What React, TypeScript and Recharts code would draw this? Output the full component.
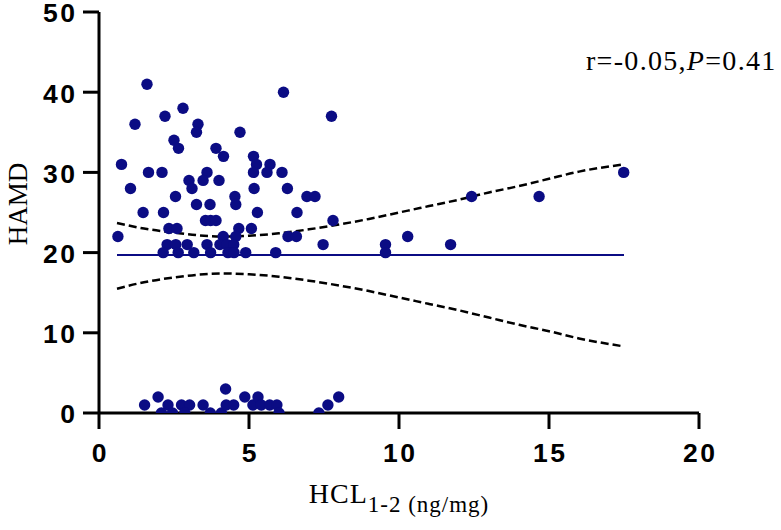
import React from 'react';
import { ComposedChart, Scatter, Line, XAxis, YAxis } from 'recharts';

// HCL (ng/mg) vs HAMD score
const hclValues = [
  1.6, 1.2, 2.2, 2.8, 3.3, 3.25, 2.5, 2.65, 0.75, 1.65, 2.1, 1.05, 3.0, 3.1, 2.55, 3.25, 1.47, 2.15,
  0.63, 2.33, 2.6, 2.27, 2.56, 2.94, 2.14, 2.64, 3.16,
  6.15, 7.75, 4.7, 3.9, 4.15, 5.15, 5.25, 5.15, 5.7, 5.6, 6.1, 3.6, 3.47, 4.0, 5.17, 6.28, 6.93, 7.2,
  4.53, 4.56, 3.7, 5.28, 6.6, 3.55, 3.72, 3.9, 4.66, 5.08, 7.8, 4.14, 4.56, 6.3, 6.58, 3.6, 4.03,
  4.27, 4.49, 7.47, 3.72, 4.3, 4.5, 4.89, 5.89,
  9.55, 9.55, 10.29, 11.72, 12.42, 14.67, 17.49,
  1.52, 1.97, 2.3, 2.08, 2.45, 2.75, 3.02, 2.86, 3.47, 3.71, 4.08, 4.22, 4.24, 4.49, 4.86, 5.13,
  5.3, 5.41, 5.69, 5.93, 6.0, 7.33, 7.63, 7.99,
];
const hamdValues = [
  41, 36, 37, 38, 36, 35, 34, 33, 31, 30, 30, 28, 29, 28, 27, 26, 25, 25,
  22, 23, 23, 21, 21, 21, 20, 20, 20,
  40, 37, 35, 33, 32, 32, 31, 30, 31, 30, 30, 30, 29, 29, 28, 28, 27, 27,
  27, 26, 26, 25, 25, 24, 24, 24, 23, 23, 24, 22, 22, 22, 22, 21, 21,
  21, 21, 21, 20, 20, 20, 20, 20,
  21, 20, 22, 21, 27, 27, 30,
  1, 2, 1, 0, 0, 1, 1, 0, 1, 0, 0, 3, 1, 1, 2, 1,
  2, 1, 1, 1, 0, 0, 1, 2,
];

// fitted line and 95% confidence band
const fitX = [0.6, 17.5];
const fitY = [19.7, 19.7];
const bandX = [0.6, 1.5, 2.5, 3.5, 4.2, 5, 6, 7, 8, 9, 10, 11, 12, 13, 14, 15, 16, 17.5];
const bandUpper = [23.7, 23.0, 22.5, 22.1, 22.0, 22.1, 22.4, 22.9, 23.5, 24.2, 25.0, 25.8, 26.6, 27.5, 28.3, 29.2, 30.1, 31.0];
const bandLower = [15.5, 16.3, 16.9, 17.3, 17.4, 17.3, 17.0, 16.5, 15.9, 15.2, 14.4, 13.6, 12.8, 11.9, 11.0, 10.2, 9.3, 8.3];

const xTicks = [0, 5, 10, 15, 20];
const yTicks = [0, 10, 20, 30, 40, 50];

const points = hclValues.map((x, i) => ({ x, y: hamdValues[i] }));
const fitData = fitX.map((x, i) => ({ x, y: fitY[i] }));
const bandData = bandX.map((x, i) => ({ x, upper: bandUpper[i], lower: bandLower[i] }));

const NAVY = '#0b0c84';
const sans = '"Liberation Sans", Arial, sans-serif';
const serif = '"Liberation Serif", "Times New Roman", serif';
const TICK_FS = 26.5;
const TICK_LS = 2.5;

// tick label renderers so the font is fully under control
const XTick = (props: any) => (
  <text
    x={props.x + TICK_LS / 2}
    y={props.y}
    dy="0.71em"
    textAnchor="middle"
    fontFamily={sans}
    fontSize={TICK_FS}
    fontWeight="bold"
    fill="#000"
    letterSpacing={TICK_LS}
  >
    {props.payload.value}
  </text>
);

const YTick = (props: any) => (
  <text
    x={props.x + TICK_LS}
    y={props.y + 1}
    dy="0.355em"
    textAnchor="end"
    fontFamily={sans}
    fontSize={TICK_FS}
    fontWeight="bold"
    fill="#000"
    letterSpacing={TICK_LS}
  >
    {props.payload.value}
  </text>
);

const Dot = (props: any) => <circle cx={props.cx} cy={props.cy} r={5.7} fill={NAVY} />;

const YLabel = () => (
  <text
    x={27}
    y={204}
    transform="rotate(-90, 27, 204)"
    textAnchor="middle"
    fontFamily={serif}
    fontSize={27}
    fill="#000"
  >
    HAMD
  </text>
);

const XLabel = (props: any) => {
  const vb = props.viewBox || {};
  const cx = (vb.x || 0) + (vb.width || 0) / 2;
  return (
    <text x={cx} y={503} textAnchor="middle" fontFamily={serif} fill="#000" letterSpacing={1}>
      <tspan fontSize={28}>HCL</tspan>
      <tspan fontSize={23} dy={9}>1-2 (ng/mg)</tspan>
    </text>
  );
};

export default function App() {
  return (
    <div style={{ position: 'absolute', left: 0, top: 0, width: 781, height: 530, background: '#fff' }}>
      <ComposedChart width={781} height={530} margin={{ top: 12, right: 82, bottom: 0, left: 0 }}>
        <XAxis
          type="number"
          dataKey="x"
          domain={[0, 20]}
          ticks={xTicks}
          height={117}
          tickSize={16}
          tickMargin={14}
          tick={<XTick />}
          axisLine={{ stroke: '#000', strokeWidth: 3 }}
          tickLine={{ stroke: '#000', strokeWidth: 3 }}
          label={<XLabel />}
          allowDataOverflow
        />
        <YAxis
          type="number"
          domain={[0, 50]}
          ticks={yTicks}
          width={99}
          tickSize={16}
          tickMargin={8}
          tick={<YTick />}
          axisLine={{ stroke: '#000', strokeWidth: 3 }}
          tickLine={{ stroke: '#000', strokeWidth: 3 }}
          label={<YLabel />}
          allowDataOverflow
        />
        <Line
          data={bandData}
          dataKey="upper"
          type="monotone"
          stroke="#000"
          strokeWidth={2.5}
          strokeDasharray="8 4"
          dot={false}
          activeDot={false}
          isAnimationActive={false}
        />
        <Line
          data={bandData}
          dataKey="lower"
          type="monotone"
          stroke="#000"
          strokeWidth={2.5}
          strokeDasharray="8 4"
          dot={false}
          activeDot={false}
          isAnimationActive={false}
        />
        <Line
          data={fitData}
          dataKey="y"
          stroke={NAVY}
          strokeWidth={2}
          dot={false}
          activeDot={false}
          isAnimationActive={false}
        />
        <Scatter data={points} dataKey="y" shape={<Dot />} isAnimationActive={false} />
      </ComposedChart>
      <svg
        width={781}
        height={530}
        style={{ position: 'absolute', left: 0, top: 0, pointerEvents: 'none' }}
      >
        <text x={586} y={70} fontFamily={serif} fontSize={28} fill="#000" letterSpacing={1.3}>
          r=-0.05,<tspan fontStyle="italic">P</tspan>=0.41
        </text>
      </svg>
    </div>
  );
}
